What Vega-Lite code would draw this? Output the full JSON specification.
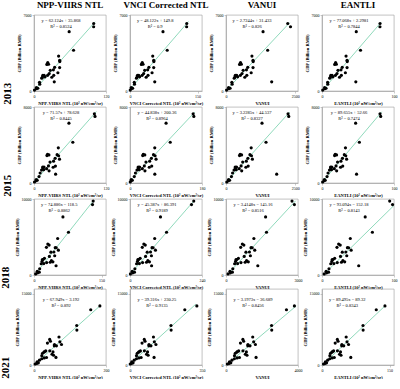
{
"$schema":"https://vega.github.io/schema/vega-lite/v6.json",
"padding":{"left":-1,"top":0,"right":0,"bottom":0},
"spacing":-1,
"config":{
 "font":"Liberation Serif",
 "numberFormat":"d",
 "view":{"stroke":"#999","strokeWidth":0.6},
 "axis":{"grid":false,"labelFont":"Liberation Serif","labelFontSize":4,"titleFont":"Liberation Serif","titleFontSize":4.5,"titleFontWeight":"bold","tickSize":2,"tickWidth":0.5,"domainWidth":0.6,"domainColor":"#999","tickColor":"#999","labelPadding":1,"titlePadding":2,"labelColor":"black","titleColor":"black","labelFlush":false,"labelOverlap":false},
 "title":{"font":"Liberation Serif","fontWeight":"bold","fontSize":9,"color":"black","offset":3},
 "circle":{"color":"black","opacity":1,"size":10},
 "line":{"color":"#72cfa9","strokeWidth":0.8},
 "text":{"font":"Liberation Serif","fontSize":4.5,"lineBreak":"|","baseline":"top","align":"center","color":"black","lineHeight":5.5}
},
"datasets":{
"pts":[
{"year":2013,"gdp":6216,"npp":99.5,"vnci":126.1,"vanui":2230,"eantli":80.6},
{"year":2013,"gdp":5916,"npp":99.4,"vnci":125.9,"vanui":2330,"eantli":80.5},
{"year":2013,"gdp":5468,"npp":58.6,"vnci":73.3,"vanui":1338,"eantli":47.6},
{"year":2013,"gdp":3757,"npp":65.9,"vnci":82.7,"vanui":1504,"eantli":53.5},
{"year":2013,"gdp":3216,"npp":41.0,"vnci":50.5,"vanui":937,"eantli":33.4},
{"year":2013,"gdp":2830,"npp":42.7,"vnci":52.7,"vanui":976,"eantli":34.8},
{"year":2013,"gdp":2708,"npp":43.0,"vnci":53.1,"vanui":982,"eantli":35.1},
{"year":2013,"gdp":2626,"npp":22.9,"vnci":27.2,"vanui":524,"eantli":18.9},
{"year":2013,"gdp":2467,"npp":24.3,"vnci":29.0,"vanui":556,"eantli":20.0},
{"year":2013,"gdp":2450,"npp":21.4,"vnci":25.2,"vanui":490,"eantli":17.6},
{"year":2013,"gdp":2176,"npp":34.4,"vnci":42.0,"vanui":786,"eantli":28.1},
{"year":2013,"gdp":2160,"npp":42.7,"vnci":52.7,"vanui":976,"eantli":34.8},
{"year":2013,"gdp":1950,"npp":32.3,"vnci":39.3,"vanui":738,"eantli":26.4},
{"year":2013,"gdp":1904,"npp":27.1,"vnci":32.6,"vanui":620,"eantli":22.2},
{"year":2013,"gdp":1683,"npp":39.8,"vnci":49.0,"vanui":909,"eantli":32.5},
{"year":2013,"gdp":1605,"npp":25.3,"vnci":30.3,"vanui":579,"eantli":20.8},
{"year":2013,"gdp":1445,"npp":22.7,"vnci":26.9,"vanui":520,"eantli":18.7},
{"year":2013,"gdp":1445,"npp":14.7,"vnci":16.6,"vanui":337,"eantli":12.2},
{"year":2013,"gdp":1434,"npp":16.9,"vnci":19.4,"vanui":387,"eantli":14.0},
{"year":2013,"gdp":1444,"npp":32.9,"vnci":40.1,"vanui":752,"eantli":26.9},
{"year":2013,"gdp":1267,"npp":29.7,"vnci":35.9,"vanui":679,"eantli":24.3},
{"year":2013,"gdp":1305,"npp":18.4,"vnci":21.4,"vanui":422,"eantli":15.2},
{"year":2013,"gdp":1266,"npp":13.9,"vnci":15.5,"vanui":319,"eantli":11.6},
{"year":2013,"gdp":1183,"npp":12.9,"vnci":14.3,"vanui":296,"eantli":10.8},
{"year":2013,"gdp":844,"npp":33.8,"vnci":55,"vanui":1650,"eantli":47},
{"year":2013,"gdp":801,"npp":9.2,"vnci":9.5,"vanui":212,"eantli":7.8},
{"year":2013,"gdp":633,"npp":9.6,"vnci":10.0,"vanui":221,"eantli":8.1},
{"year":2013,"gdp":315,"npp":4.0,"vnci":2.8,"vanui":93,"eantli":3.6},
{"year":2013,"gdp":257,"npp":6.4,"vnci":5.9,"vanui":148,"eantli":5.6},
{"year":2013,"gdp":210,"npp":4.2,"vnci":3.0,"vanui":98,"eantli":3.8},
{"year":2013,"gdp":81,"npp":0.8,"vnci":0.5,"vanui":20,"eantli":1.0},
{"year":2015,"gdp":7281,"npp":100.6,"vnci":157.9,"vanui":2241,"eantli":80.6},
{"year":2015,"gdp":7012,"npp":101.7,"vnci":159.6,"vanui":2266,"eantli":81.5},
{"year":2015,"gdp":6300,"npp":58.2,"vnci":90.2,"vanui":1301,"eantli":46.7},
{"year":2015,"gdp":4289,"npp":64.7,"vnci":100.6,"vanui":1445,"eantli":51.9},
{"year":2015,"gdp":3700,"npp":40.5,"vnci":61.9,"vanui":909,"eantli":32.6},
{"year":2015,"gdp":2981,"npp":38.5,"vnci":58.7,"vanui":865,"eantli":31.0},
{"year":2015,"gdp":2867,"npp":41.0,"vnci":62.7,"vanui":920,"eantli":33.0},
{"year":2015,"gdp":3010,"npp":22.5,"vnci":33.2,"vanui":510,"eantli":18.3},
{"year":2015,"gdp":2955,"npp":24.9,"vnci":37.0,"vanui":563,"eantli":20.2},
{"year":2015,"gdp":2890,"npp":21.6,"vnci":31.8,"vanui":490,"eantli":17.5},
{"year":2015,"gdp":2598,"npp":35.2,"vnci":53.5,"vanui":791,"eantli":28.4},
{"year":2015,"gdp":2512,"npp":42.5,"vnci":65.1,"vanui":953,"eantli":34.2},
{"year":2015,"gdp":2301,"npp":32.6,"vnci":49.3,"vanui":734,"eantli":26.3},
{"year":2015,"gdp":2201,"npp":26.7,"vnci":39.9,"vanui":603,"eantli":21.6},
{"year":2015,"gdp":1783,"npp":35.7,"vnci":54.3,"vanui":802,"eantli":28.8},
{"year":2015,"gdp":1802,"npp":24.1,"vnci":35.8,"vanui":545,"eantli":19.5},
{"year":2015,"gdp":1508,"npp":21.0,"vnci":30.8,"vanui":477,"eantli":17.1},
{"year":2015,"gdp":1680,"npp":14.5,"vnci":20.4,"vanui":332,"eantli":11.9},
{"year":2015,"gdp":1672,"npp":16.7,"vnci":24.0,"vanui":381,"eantli":13.6},
{"year":2015,"gdp":1654,"npp":31.9,"vnci":48.2,"vanui":718,"eantli":25.8},
{"year":2015,"gdp":1277,"npp":25.1,"vnci":37.4,"vanui":567,"eantli":20.3},
{"year":2015,"gdp":1406,"npp":16.2,"vnci":23.2,"vanui":370,"eantli":13.2},
{"year":2015,"gdp":1572,"npp":14.6,"vnci":20.6,"vanui":335,"eantli":12.0},
{"year":2015,"gdp":1362,"npp":12.6,"vnci":17.4,"vanui":290,"eantli":10.4},
{"year":2015,"gdp":932,"npp":36,"vnci":62,"vanui":1830,"eantli":48},
{"year":2015,"gdp":1050,"npp":10.2,"vnci":13.6,"vanui":237,"eantli":8.4},
{"year":2015,"gdp":679,"npp":8.4,"vnci":10.7,"vanui":197,"eantli":7.0},
{"year":2015,"gdp":370,"npp":3.7,"vnci":3.2,"vanui":93,"eantli":3.3},
{"year":2015,"gdp":291,"npp":5.3,"vnci":5.8,"vanui":129,"eantli":4.5},
{"year":2015,"gdp":242,"npp":3.4,"vnci":2.7,"vanui":86,"eantli":3.0},
{"year":2015,"gdp":103,"npp":0.8,"vnci":0.6,"vanui":29,"eantli":0.9},
{"year":2018,"gdp":9728,"npp":131.5,"vnci":212.5,"vanui":2750,"eantli":94},
{"year":2018,"gdp":9260,"npp":130,"vnci":205,"vanui":2850,"eantli":98},
{"year":2018,"gdp":7647,"npp":64.3,"vnci":101.6,"vanui":1650,"eantli":60},
{"year":2018,"gdp":5620,"npp":76.6,"vnci":121.9,"vanui":1688,"eantli":70},
{"year":2018,"gdp":4806,"npp":52.6,"vnci":82.3,"vanui":1162,"eantli":39.3},
{"year":2018,"gdp":3601,"npp":47.2,"vnci":73.4,"vanui":1043,"eantli":35.3},
{"year":2018,"gdp":2532,"npp":46.0,"vnci":71.4,"vanui":1017,"eantli":34.4},
{"year":2018,"gdp":4068,"npp":30.7,"vnci":46.2,"vanui":681,"eantli":23.1},
{"year":2018,"gdp":3937,"npp":33.6,"vnci":50.9,"vanui":745,"eantli":25.3},
{"year":2018,"gdp":3643,"npp":27.6,"vnci":41.0,"vanui":613,"eantli":20.8},
{"year":2018,"gdp":3580,"npp":49.4,"vnci":77.0,"vanui":1091,"eantli":37.0},
{"year":2018,"gdp":3268,"npp":54.2,"vnci":84.9,"vanui":1197,"eantli":40.5},
{"year":2018,"gdp":3032,"npp":44.2,"vnci":68.4,"vanui":977,"eantli":33.1},
{"year":2018,"gdp":3007,"npp":37.5,"vnci":57.4,"vanui":830,"eantli":28.2},
{"year":2018,"gdp":1729,"npp":42.0,"vnci":64.8,"vanui":929,"eantli":31.5},
{"year":2018,"gdp":2444,"npp":34.2,"vnci":51.9,"vanui":758,"eantli":25.7},
{"year":2018,"gdp":1636,"npp":28.1,"vnci":41.9,"vanui":624,"eantli":21.2},
{"year":2018,"gdp":2035,"npp":18.7,"vnci":26.4,"vanui":418,"eantli":14.2},
{"year":2018,"gdp":2198,"npp":23.2,"vnci":33.8,"vanui":517,"eantli":17.6},
{"year":2018,"gdp":1881,"npp":38.7,"vnci":59.4,"vanui":857,"eantli":29.0},
{"year":2018,"gdp":1682,"npp":36.0,"vnci":54.9,"vanui":797,"eantli":27.0},
{"year":2018,"gdp":1507,"npp":21.7,"vnci":31.3,"vanui":484,"eantli":16.5},
{"year":2018,"gdp":2036,"npp":20.2,"vnci":28.8,"vanui":451,"eantli":15.3},
{"year":2018,"gdp":1788,"npp":17.8,"vnci":24.9,"vanui":398,"eantli":13.6},
{"year":2018,"gdp":1220,"npp":49,"vnci":72,"vanui":1325,"eantli":51},
{"year":2018,"gdp":1481,"npp":16.0,"vnci":21.9,"vanui":359,"eantli":12.2},
{"year":2018,"gdp":825,"npp":12.6,"vnci":16.3,"vanui":284,"eantli":9.7},
{"year":2018,"gdp":483,"npp":7.2,"vnci":7.4,"vanui":166,"eantli":5.7},
{"year":2018,"gdp":370,"npp":11.7,"vnci":14.8,"vanui":265,"eantli":9.1},
{"year":2018,"gdp":287,"npp":8.1,"vnci":8.9,"vanui":186,"eantli":6.4},
{"year":2018,"gdp":148,"npp":3.6,"vnci":1.4,"vanui":87,"eantli":3.1},
{"year":2021,"gdp":12437,"npp":183,"vnci":325,"vanui":3800,"eantli":139.9},
{"year":2021,"gdp":11636,"npp":157.6,"vnci":266.4,"vanui":3359,"eantli":120.6},
{"year":2021,"gdp":8310,"npp":118.7,"vnci":199.2,"vanui":2532,"eantli":91.1},
{"year":2021,"gdp":7352,"npp":119.1,"vnci":199.9,"vanui":2541,"eantli":91.4},
{"year":2021,"gdp":5889,"npp":69.4,"vnci":114.0,"vanui":1485,"eantli":53.7},
{"year":2021,"gdp":4039,"npp":56.5,"vnci":91.7,"vanui":1211,"eantli":43.9},
{"year":2021,"gdp":2758,"npp":52.8,"vnci":85.3,"vanui":1132,"eantli":41.1},
{"year":2021,"gdp":5385,"npp":43.6,"vnci":69.4,"vanui":937,"eantli":34.1},
{"year":2021,"gdp":5009,"npp":45.7,"vnci":73.1,"vanui":981,"eantli":35.7},
{"year":2021,"gdp":4606,"npp":37.3,"vnci":58.6,"vanui":803,"eantli":29.3},
{"year":2021,"gdp":4881,"npp":71.9,"vnci":118.3,"vanui":1538,"eantli":55.6},
{"year":2021,"gdp":4321,"npp":76.4,"vnci":126.1,"vanui":1634,"eantli":59.0},
{"year":2021,"gdp":4027,"npp":62.3,"vnci":101.8,"vanui":1334,"eantli":48.3},
{"year":2021,"gdp":4296,"npp":56.9,"vnci":92.4,"vanui":1219,"eantli":44.2},
{"year":2021,"gdp":2051,"npp":54.4,"vnci":88.1,"vanui":1166,"eantli":42.3},
{"year":2021,"gdp":2980,"npp":43.9,"vnci":70.0,"vanui":943,"eantli":34.3},
{"year":2021,"gdp":1488,"npp":28.5,"vnci":43.3,"vanui":616,"eantli":22.6},
{"year":2021,"gdp":2474,"npp":23.7,"vnci":35.1,"vanui":514,"eantli":19.0},
{"year":2021,"gdp":2962,"npp":32.7,"vnci":50.6,"vanui":705,"eantli":25.8},
{"year":2021,"gdp":1570,"npp":34.7,"vnci":54.1,"vanui":747,"eantli":27.3},
{"year":2021,"gdp":2259,"npp":50.0,"vnci":80.5,"vanui":1073,"eantli":39.0},
{"year":2021,"gdp":1324,"npp":21.5,"vnci":31.3,"vanui":467,"eantli":17.3},
{"year":2021,"gdp":2789,"npp":28.8,"vnci":43.9,"vanui":622,"eantli":22.9},
{"year":2021,"gdp":2715,"npp":28.0,"vnci":42.5,"vanui":605,"eantli":22.3},
{"year":2021,"gdp":1598,"npp":61,"vnci":117,"vanui":1670,"eantli":64},
{"year":2021,"gdp":1959,"npp":21.7,"vnci":31.6,"vanui":471,"eantli":17.5},
{"year":2021,"gdp":1024,"npp":15.1,"vnci":20.2,"vanui":331,"eantli":12.5},
{"year":2021,"gdp":648,"npp":8.6,"vnci":9.0,"vanui":193,"eantli":7.5},
{"year":2021,"gdp":452,"npp":12.1,"vnci":15.0,"vanui":267,"eantli":10.2},
{"year":2021,"gdp":335,"npp":7.5,"vnci":7.1,"vanui":169,"eantli":6.7},
{"year":2021,"gdp":208,"npp":3.1,"vnci":1.0,"vanui":76,"eantli":3.4}
],
"fit":[
{"year":2013,"ind":"npp","x":0,"y":35.9},{"year":2013,"ind":"npp","x":102,"y":6373},
{"year":2013,"ind":"vnci","x":0,"y":149.8},{"year":2013,"ind":"vnci","x":130,"y":6406},
{"year":2013,"ind":"vanui","x":0,"y":31.4},{"year":2013,"ind":"vanui","x":2300,"y":6297},
{"year":2013,"ind":"eantli","x":0,"y":2.3},{"year":2013,"ind":"eantli","x":82,"y":6322},
{"year":2015,"ind":"npp","x":0,"y":78.6},{"year":2015,"ind":"npp","x":104,"y":7522},
{"year":2015,"ind":"vnci","x":0,"y":200.4},{"year":2015,"ind":"vnci","x":162,"y":7464},
{"year":2015,"ind":"vanui","x":0,"y":44.5},{"year":2015,"ind":"vanui","x":2300,"y":7471},
{"year":2015,"ind":"eantli","x":0,"y":52.7},{"year":2015,"ind":"eantli","x":83,"y":7494},
{"year":2018,"ind":"npp","x":1.6,"y":0},{"year":2018,"ind":"npp","x":133,"y":9842},
{"year":2018,"ind":"vnci","x":0,"y":86.4},{"year":2018,"ind":"vnci","x":215,"y":9844},
{"year":2018,"ind":"vanui","x":42.5,"y":0},{"year":2018,"ind":"vanui","x":2900,"y":9758},
{"year":2018,"ind":"eantli","x":1.6,"y":0},{"year":2018,"ind":"eantli","x":100,"y":9157},
{"year":2021,"ind":"npp","x":0.05,"y":0},{"year":2021,"ind":"npp","x":186,"y":12636},
{"year":2021,"ind":"vnci","x":0,"y":230.3},{"year":2021,"ind":"vnci","x":320,"y":12811},
{"year":2021,"ind":"vanui","x":11.5,"y":0},{"year":2021,"ind":"vanui","x":3900,"y":12432},
{"year":2021,"ind":"eantli","x":1.0,"y":0},{"year":2021,"ind":"eantli","x":142,"y":12619}
],
"eq":[
{"year":2013,"ind":"npp","t":"y = 62.124x + 35.868|R² = 0.8524"},
{"year":2013,"ind":"vnci","t":"y = 48.122x + 149.8|R² = 0.9"},
{"year":2013,"ind":"vanui","t":"y = 2.7244x + 31.433|R² = 0.826"},
{"year":2013,"ind":"eantli","t":"y = 77.068x + 2.2981|R² = 0.7844"},
{"year":2015,"ind":"npp","t":"y = 71.57x + 78.628|R² = 0.8445"},
{"year":2015,"ind":"vnci","t":"y = 44.838x + 200.36|R² = 0.8964"},
{"year":2015,"ind":"vanui","t":"y = 3.2285x + 44.537|R² = 0.8327"},
{"year":2015,"ind":"eantli","t":"y = 89.655x + 52.66|R² = 0.7474"},
{"year":2018,"ind":"npp","t":"y = 74.886x − 118.5|R² = 0.8862"},
{"year":2018,"ind":"vnci","t":"y = 45.387x + 86.391|R² = 0.9189"},
{"year":2018,"ind":"vanui","t":"y = 3.4148x − 145.16|R² = 0.8516"},
{"year":2018,"ind":"eantli","t":"y = 93.094x − 152.18|R² = 0.8143"},
{"year":2021,"ind":"npp","t":"y = 67.949x − 3.192|R² = 0.892"},
{"year":2021,"ind":"vnci","t":"y = 39.316x + 230.25|R² = 0.9135"},
{"year":2021,"ind":"vanui","t":"y = 3.1973x − 36.689|R² = 0.8456"},
{"year":2021,"ind":"eantli","t":"y = 89.495x − 89.32|R² = 0.8343"}
]
},
"vconcat":[
{"bounds":"flush","spacing":24,"title":{"text":"2013","orient":"left","fontSize":11,"offset":3},"hconcat":[
{"title":"NPP-VIIRS NTL","width":72,"height":76,"layer":[
{"data":{"name":"fit"},"transform":[{"filter":"datum.year==2013&&datum.ind=='npp'"}],"mark":"line","encoding":{"x":{"field":"x","type":"quantitative","scale":{"domain":[0,120]},"axis":{"values":[0,30,60,90,120],"title":"NPP-VIIRS NTL (10² nW/cm²/sr)"}},"y":{"field":"y","type":"quantitative","scale":{"domain":[0,7000]},"axis":{"values":[0,1000,2000,3000,4000,5000,6000,7000],"title":"GDP (Billion RMB)"}}}},
{"data":{"name":"pts"},"transform":[{"filter":"datum.year==2013"}],"mark":"circle","encoding":{"x":{"field":"npp","type":"quantitative"},"y":{"field":"gdp","type":"quantitative"}}},
{"data":{"name":"eq"},"transform":[{"filter":"datum.year==2013&&datum.ind=='npp'"}],"mark":"text","encoding":{"x":{"datum":45},"y":{"datum":6700},"text":{"field":"t"}}}]},
{"title":"VNCI Corrected NTL","width":72,"height":76,"layer":[
{"data":{"name":"fit"},"transform":[{"filter":"datum.year==2013&&datum.ind=='vnci'"}],"mark":"line","encoding":{"x":{"field":"x","type":"quantitative","scale":{"domain":[0,150]},"axis":{"values":[0,25,50,75,100,125,150],"title":"VNCI Corrected NTL (10² nW/cm²/sr)"}},"y":{"field":"y","type":"quantitative","scale":{"domain":[0,7000]},"axis":{"values":[0,1000,2000,3000,4000,5000,6000,7000],"title":"GDP (Billion RMB)"}}}},
{"data":{"name":"pts"},"transform":[{"filter":"datum.year==2013"}],"mark":"circle","encoding":{"x":{"field":"vnci","type":"quantitative"},"y":{"field":"gdp","type":"quantitative"}}},
{"data":{"name":"eq"},"transform":[{"filter":"datum.year==2013&&datum.ind=='vnci'"}],"mark":"text","encoding":{"x":{"datum":56},"y":{"datum":6700},"text":{"field":"t"}}}]},
{"title":"VANUI","width":72,"height":76,"layer":[
{"data":{"name":"fit"},"transform":[{"filter":"datum.year==2013&&datum.ind=='vanui'"}],"mark":"line","encoding":{"x":{"field":"x","type":"quantitative","scale":{"domain":[0,2500]},"axis":{"values":[0,500,1000,1500,2000,2500],"title":"VANUI"}},"y":{"field":"y","type":"quantitative","scale":{"domain":[0,7000]},"axis":{"values":[0,1000,2000,3000,4000,5000,6000,7000],"title":"GDP (Billion RMB)"}}}},
{"data":{"name":"pts"},"transform":[{"filter":"datum.year==2013"}],"mark":"circle","encoding":{"x":{"field":"vanui","type":"quantitative"},"y":{"field":"gdp","type":"quantitative"}}},
{"data":{"name":"eq"},"transform":[{"filter":"datum.year==2013&&datum.ind=='vanui'"}],"mark":"text","encoding":{"x":{"datum":940},"y":{"datum":6700},"text":{"field":"t"}}}]},
{"title":"EANTLI","width":72,"height":76,"layer":[
{"data":{"name":"fit"},"transform":[{"filter":"datum.year==2013&&datum.ind=='eantli'"}],"mark":"line","encoding":{"x":{"field":"x","type":"quantitative","scale":{"domain":[0,100]},"axis":{"values":[0,25,50,75,100],"title":"EANTLI (10² nW/cm²/sr)"}},"y":{"field":"y","type":"quantitative","scale":{"domain":[0,7000]},"axis":{"values":[0,1000,2000,3000,4000,5000,6000,7000],"title":"GDP (Billion RMB)"}}}},
{"data":{"name":"pts"},"transform":[{"filter":"datum.year==2013"}],"mark":"circle","encoding":{"x":{"field":"eantli","type":"quantitative"},"y":{"field":"gdp","type":"quantitative"}}},
{"data":{"name":"eq"},"transform":[{"filter":"datum.year==2013&&datum.ind=='eantli'"}],"mark":"text","encoding":{"x":{"datum":37.5},"y":{"datum":6700},"text":{"field":"t"}}}]}
]},
{"bounds":"flush","spacing":24,"title":{"text":"2015","orient":"left","fontSize":11,"offset":3},"hconcat":[
{"width":72,"height":76,"layer":[
{"data":{"name":"fit"},"transform":[{"filter":"datum.year==2015&&datum.ind=='npp'"}],"mark":"line","encoding":{"x":{"field":"x","type":"quantitative","scale":{"domain":[0,120]},"axis":{"values":[0,30,60,90,120],"title":"NPP-VIIRS NTL (10² nW/cm²/sr)"}},"y":{"field":"y","type":"quantitative","scale":{"domain":[0,8000]},"axis":{"values":[0,1000,2000,3000,4000,5000,6000,7000,8000],"title":"GDP (Billion RMB)"}}}},
{"data":{"name":"pts"},"transform":[{"filter":"datum.year==2015"}],"mark":"circle","encoding":{"x":{"field":"npp","type":"quantitative"},"y":{"field":"gdp","type":"quantitative"}}},
{"data":{"name":"eq"},"transform":[{"filter":"datum.year==2015&&datum.ind=='npp'"}],"mark":"text","encoding":{"x":{"datum":45},"y":{"datum":7650},"text":{"field":"t"}}}]},
{"width":72,"height":76,"layer":[
{"data":{"name":"fit"},"transform":[{"filter":"datum.year==2015&&datum.ind=='vnci'"}],"mark":"line","encoding":{"x":{"field":"x","type":"quantitative","scale":{"domain":[0,180]},"axis":{"values":[0,30,60,90,120,150,180],"title":"VNCI Corrected NTL (10² nW/cm²/sr)"}},"y":{"field":"y","type":"quantitative","scale":{"domain":[0,8000]},"axis":{"values":[0,1000,2000,3000,4000,5000,6000,7000,8000],"title":"GDP (Billion RMB)"}}}},
{"data":{"name":"pts"},"transform":[{"filter":"datum.year==2015"}],"mark":"circle","encoding":{"x":{"field":"vnci","type":"quantitative"},"y":{"field":"gdp","type":"quantitative"}}},
{"data":{"name":"eq"},"transform":[{"filter":"datum.year==2015&&datum.ind=='vnci'"}],"mark":"text","encoding":{"x":{"datum":67.5},"y":{"datum":7650},"text":{"field":"t"}}}]},
{"width":72,"height":76,"layer":[
{"data":{"name":"fit"},"transform":[{"filter":"datum.year==2015&&datum.ind=='vanui'"}],"mark":"line","encoding":{"x":{"field":"x","type":"quantitative","scale":{"domain":[0,2500]},"axis":{"values":[0,500,1000,1500,2000,2500],"title":"VANUI"}},"y":{"field":"y","type":"quantitative","scale":{"domain":[0,8000]},"axis":{"values":[0,1000,2000,3000,4000,5000,6000,7000,8000],"title":"GDP (Billion RMB)"}}}},
{"data":{"name":"pts"},"transform":[{"filter":"datum.year==2015"}],"mark":"circle","encoding":{"x":{"field":"vanui","type":"quantitative"},"y":{"field":"gdp","type":"quantitative"}}},
{"data":{"name":"eq"},"transform":[{"filter":"datum.year==2015&&datum.ind=='vanui'"}],"mark":"text","encoding":{"x":{"datum":940},"y":{"datum":7650},"text":{"field":"t"}}}]},
{"width":72,"height":76,"layer":[
{"data":{"name":"fit"},"transform":[{"filter":"datum.year==2015&&datum.ind=='eantli'"}],"mark":"line","encoding":{"x":{"field":"x","type":"quantitative","scale":{"domain":[0,100]},"axis":{"values":[0,25,50,75,100],"title":"EANTLI (10² nW/cm²/sr)"}},"y":{"field":"y","type":"quantitative","scale":{"domain":[0,8000]},"axis":{"values":[0,1000,2000,3000,4000,5000,6000,7000,8000],"title":"GDP (Billion RMB)"}}}},
{"data":{"name":"pts"},"transform":[{"filter":"datum.year==2015"}],"mark":"circle","encoding":{"x":{"field":"eantli","type":"quantitative"},"y":{"field":"gdp","type":"quantitative"}}},
{"data":{"name":"eq"},"transform":[{"filter":"datum.year==2015&&datum.ind=='eantli'"}],"mark":"text","encoding":{"x":{"datum":37.5},"y":{"datum":7650},"text":{"field":"t"}}}]}
]},
{"bounds":"flush","spacing":24,"title":{"text":"2018","orient":"left","fontSize":11,"offset":3},"hconcat":[
{"width":72,"height":76,"layer":[
{"data":{"name":"fit"},"transform":[{"filter":"datum.year==2018&&datum.ind=='npp'"}],"mark":"line","encoding":{"x":{"field":"x","type":"quantitative","scale":{"domain":[0,150]},"axis":{"values":[0,30,60,90,120,150],"title":"NPP-VIIRS NTL (10² nW/cm²/sr)"}},"y":{"field":"y","type":"quantitative","scale":{"domain":[0,10000]},"axis":{"values":[0,2000,4000,6000,8000,10000],"title":"GDP (Billion RMB)"}}}},
{"data":{"name":"pts"},"transform":[{"filter":"datum.year==2018"}],"mark":"circle","encoding":{"x":{"field":"npp","type":"quantitative"},"y":{"field":"gdp","type":"quantitative"}}},
{"data":{"name":"eq"},"transform":[{"filter":"datum.year==2018&&datum.ind=='npp'"}],"mark":"text","encoding":{"x":{"datum":56},"y":{"datum":9550},"text":{"field":"t"}}}]},
{"width":72,"height":76,"layer":[
{"data":{"name":"fit"},"transform":[{"filter":"datum.year==2018&&datum.ind=='vnci'"}],"mark":"line","encoding":{"x":{"field":"x","type":"quantitative","scale":{"domain":[0,240]},"axis":{"values":[0,40,80,120,160,200,240],"title":"VNCI Corrected NTL (10² nW/cm²/sr)"}},"y":{"field":"y","type":"quantitative","scale":{"domain":[0,10000]},"axis":{"values":[0,2000,4000,6000,8000,10000],"title":"GDP (Billion RMB)"}}}},
{"data":{"name":"pts"},"transform":[{"filter":"datum.year==2018"}],"mark":"circle","encoding":{"x":{"field":"vnci","type":"quantitative"},"y":{"field":"gdp","type":"quantitative"}}},
{"data":{"name":"eq"},"transform":[{"filter":"datum.year==2018&&datum.ind=='vnci'"}],"mark":"text","encoding":{"x":{"datum":90},"y":{"datum":9550},"text":{"field":"t"}}}]},
{"width":72,"height":76,"layer":[
{"data":{"name":"fit"},"transform":[{"filter":"datum.year==2018&&datum.ind=='vanui'"}],"mark":"line","encoding":{"x":{"field":"x","type":"quantitative","scale":{"domain":[0,3000]},"axis":{"values":[0,500,1000,1500,2000,2500,3000],"title":"VANUI"}},"y":{"field":"y","type":"quantitative","scale":{"domain":[0,10000]},"axis":{"values":[0,2000,4000,6000,8000,10000],"title":"GDP (Billion RMB)"}}}},
{"data":{"name":"pts"},"transform":[{"filter":"datum.year==2018"}],"mark":"circle","encoding":{"x":{"field":"vanui","type":"quantitative"},"y":{"field":"gdp","type":"quantitative"}}},
{"data":{"name":"eq"},"transform":[{"filter":"datum.year==2018&&datum.ind=='vanui'"}],"mark":"text","encoding":{"x":{"datum":1125},"y":{"datum":9550},"text":{"field":"t"}}}]},
{"width":72,"height":76,"layer":[
{"data":{"name":"fit"},"transform":[{"filter":"datum.year==2018&&datum.ind=='eantli'"}],"mark":"line","encoding":{"x":{"field":"x","type":"quantitative","scale":{"domain":[0,100]},"axis":{"values":[0,25,50,75,100],"title":"EANTLI (10² nW/cm²/sr)"}},"y":{"field":"y","type":"quantitative","scale":{"domain":[0,10000]},"axis":{"values":[0,2000,4000,6000,8000,10000],"title":"GDP (Billion RMB)"}}}},
{"data":{"name":"pts"},"transform":[{"filter":"datum.year==2018"}],"mark":"circle","encoding":{"x":{"field":"eantli","type":"quantitative"},"y":{"field":"gdp","type":"quantitative"}}},
{"data":{"name":"eq"},"transform":[{"filter":"datum.year==2018&&datum.ind=='eantli'"}],"mark":"text","encoding":{"x":{"datum":37.5},"y":{"datum":9550},"text":{"field":"t"}}}]}
]},
{"bounds":"flush","spacing":24,"title":{"text":"2021","orient":"left","fontSize":11,"offset":3},"hconcat":[
{"width":72,"height":76,"layer":[
{"data":{"name":"fit"},"transform":[{"filter":"datum.year==2021&&datum.ind=='npp'"}],"mark":"line","encoding":{"x":{"field":"x","type":"quantitative","scale":{"domain":[0,200]},"axis":{"values":[0,40,80,120,160,200],"title":"NPP-VIIRS NTL (10² nW/cm²/sr)"}},"y":{"field":"y","type":"quantitative","scale":{"domain":[0,15000]},"axis":{"values":[0,3000,6000,9000,12000,15000],"title":"GDP (Billion RMB)"}}}},
{"data":{"name":"pts"},"transform":[{"filter":"datum.year==2021"}],"mark":"circle","encoding":{"x":{"field":"npp","type":"quantitative"},"y":{"field":"gdp","type":"quantitative"}}},
{"data":{"name":"eq"},"transform":[{"filter":"datum.year==2021&&datum.ind=='npp'"}],"mark":"text","encoding":{"x":{"datum":75},"y":{"datum":14300},"text":{"field":"t"}}}]},
{"width":72,"height":76,"layer":[
{"data":{"name":"fit"},"transform":[{"filter":"datum.year==2021&&datum.ind=='vnci'"}],"mark":"line","encoding":{"x":{"field":"x","type":"quantitative","scale":{"domain":[0,350]},"axis":{"values":[0,70,140,210,280,350],"title":"VNCI Corrected NTL (10² nW/cm²/sr)"}},"y":{"field":"y","type":"quantitative","scale":{"domain":[0,15000]},"axis":{"values":[0,3000,6000,9000,12000,15000],"title":"GDP (Billion RMB)"}}}},
{"data":{"name":"pts"},"transform":[{"filter":"datum.year==2021"}],"mark":"circle","encoding":{"x":{"field":"vnci","type":"quantitative"},"y":{"field":"gdp","type":"quantitative"}}},
{"data":{"name":"eq"},"transform":[{"filter":"datum.year==2021&&datum.ind=='vnci'"}],"mark":"text","encoding":{"x":{"datum":131},"y":{"datum":14300},"text":{"field":"t"}}}]},
{"width":72,"height":76,"layer":[
{"data":{"name":"fit"},"transform":[{"filter":"datum.year==2021&&datum.ind=='vanui'"}],"mark":"line","encoding":{"x":{"field":"x","type":"quantitative","scale":{"domain":[0,4000]},"axis":{"values":[0,1000,2000,3000,4000],"title":"VANUI"}},"y":{"field":"y","type":"quantitative","scale":{"domain":[0,15000]},"axis":{"values":[0,3000,6000,9000,12000,15000],"title":"GDP (Billion RMB)"}}}},
{"data":{"name":"pts"},"transform":[{"filter":"datum.year==2021"}],"mark":"circle","encoding":{"x":{"field":"vanui","type":"quantitative"},"y":{"field":"gdp","type":"quantitative"}}},
{"data":{"name":"eq"},"transform":[{"filter":"datum.year==2021&&datum.ind=='vanui'"}],"mark":"text","encoding":{"x":{"datum":1500},"y":{"datum":14300},"text":{"field":"t"}}}]},
{"width":72,"height":76,"layer":[
{"data":{"name":"fit"},"transform":[{"filter":"datum.year==2021&&datum.ind=='eantli'"}],"mark":"line","encoding":{"x":{"field":"x","type":"quantitative","scale":{"domain":[0,150]},"axis":{"values":[0,30,60,90,120,150],"title":"EANTLI (10² nW/cm²/sr)"}},"y":{"field":"y","type":"quantitative","scale":{"domain":[0,15000]},"axis":{"values":[0,3000,6000,9000,12000,15000],"title":"GDP (Billion RMB)"}}}},
{"data":{"name":"pts"},"transform":[{"filter":"datum.year==2021"}],"mark":"circle","encoding":{"x":{"field":"eantli","type":"quantitative"},"y":{"field":"gdp","type":"quantitative"}}},
{"data":{"name":"eq"},"transform":[{"filter":"datum.year==2021&&datum.ind=='eantli'"}],"mark":"text","encoding":{"x":{"datum":56},"y":{"datum":14300},"text":{"field":"t"}}}]}
]}
]
}
